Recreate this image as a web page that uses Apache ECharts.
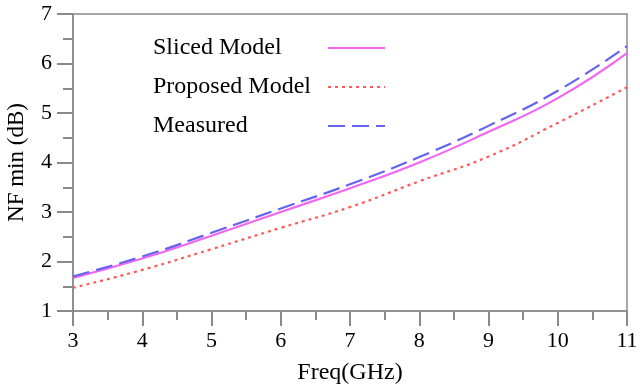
<!DOCTYPE html>
<html style="height: 100%">
<head>
  <meta charset="utf-8">
  <script src="https://cdn.jsdelivr.net/npm/echarts@6/dist/echarts.min.js"></script>
</head>
<body style="height: 100%; margin: 0; background: #fff">
  <div id="container" style="width: 640px; height: 390px"></div>
  <script type="text/javascript">
    var freq = [3, 4, 5, 6, 7, 8, 9, 10, 11];
    var sliced = [1.67, 2.06, 2.52, 3.00, 3.48, 4.00, 4.62, 5.30, 6.21];
    var proposed = [1.47, 1.83, 2.25, 2.68, 3.10, 3.62, 4.12, 4.80, 5.52];
    var measured = [1.70, 2.10, 2.58, 3.07, 3.56, 4.11, 4.74, 5.45, 6.35];

    function pairs(ys) {
      return freq.map(function (f, i) { return [f, ys[i]]; });
    }

    var font = '"Liberation Serif", "DejaVu Serif", serif';
    var axisGray = '#8a8a8a';

    var myChart = echarts.init(document.getElementById('container'), null, { renderer: 'canvas' });

    var option = {
      animation: false,
      textStyle: { fontFamily: font },
      grid: {
        left: 73, right: 13, top: 14, bottom: 79,
        containLabel: false,
        outerBoundsMode: 'none',
        show: true, borderColor: axisGray, borderWidth: 1.5
      },
      legend: {
        orient: 'vertical',
        left: 148, top: 31,
        align: 'right',
        itemGap: 15,
        itemWidth: 57,
        itemHeight: 24,
        itemStyle: { color: 'transparent', borderColor: 'transparent', borderWidth: 0 },
        formatter: '{a|{name}}',
        textStyle: {
          fontFamily: font, fontSize: 24, color: '#000',
          rich: { a: { width: 170, align: 'left', fontFamily: font, fontSize: 24, color: '#000' } }
        },
        data: ['Sliced Model', 'Proposed Model', 'Measured']
      },
      xAxis: {
        type: 'value',
        min: 3, max: 11, interval: 1,
        name: 'Freq(GHz)',
        nameLocation: 'middle',
        nameGap: 50,
        nameTextStyle: { fontFamily: font, fontSize: 24, color: '#000' },
        axisLine: { lineStyle: { color: axisGray, width: 1.5 } },
        axisTick: { length: 15, lineStyle: { color: axisGray, width: 2 } },
        minorTick: { show: true, splitNumber: 2, length: 9, lineStyle: { color: axisGray, width: 2 } },
        axisLabel: { margin: 19, fontFamily: font, fontSize: 22, color: '#000' },
        splitLine: { show: false }
      },
      yAxis: {
        type: 'value',
        min: 1, max: 7, interval: 1,
        name: 'NF min (dB)',
        nameLocation: 'middle',
        nameGap: 45,
        nameTextStyle: { fontFamily: font, fontSize: 23, color: '#000' },
        axisLine: { show: true, lineStyle: { color: axisGray, width: 1.5 } },
        axisTick: { show: true, length: 16, lineStyle: { color: axisGray, width: 2 } },
        minorTick: { show: true, splitNumber: 2, length: 10, lineStyle: { color: axisGray, width: 2 } },
        axisLabel: { margin: 21, fontFamily: font, fontSize: 22, color: '#000' },
        splitLine: { show: false }
      },
      series: [
        {
          name: 'Sliced Model',
          type: 'line',
          smooth: true,
          symbol: 'none',
          lineStyle: { color: '#f266f2', width: 2.2 },
          itemStyle: { color: '#f266f2' },
          data: pairs(sliced)
        },
        {
          name: 'Proposed Model',
          type: 'line',
          smooth: true,
          symbol: 'none',
          lineStyle: { color: '#ff5a5a', width: 2.2, type: [3, 4] },
          itemStyle: { color: '#ff5a5a' },
          data: pairs(proposed)
        },
        {
          name: 'Measured',
          type: 'line',
          smooth: true,
          symbol: 'none',
          lineStyle: { color: '#6464ee', width: 2.2, type: [17, 7] },
          itemStyle: { color: '#6464ee' },
          data: pairs(measured)
        }
      ]
    };

    myChart.setOption(option);
    window.addEventListener('resize', myChart.resize);
  </script>
</body>
</html>
